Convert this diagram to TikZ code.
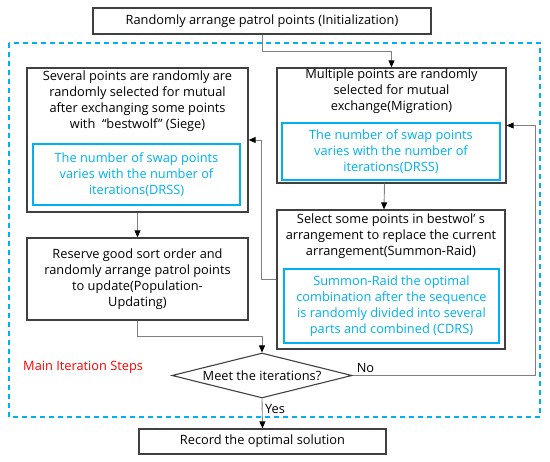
\documentclass[tikz,border=0pt]{standalone}
\usepackage{fontspec}
\setmainfont{Open Sans}
\usetikzlibrary{positioning, arrows.meta, shapes.geometric}

\definecolor{skyblue}{RGB}{0,176,240}
\definecolor{boxgray}{RGB}{64,64,64}
\definecolor{linegray}{RGB}{128,128,128}

\begin{document}
\begin{tikzpicture}[
		x=1pt, y=1pt, font=\fontsize{12.8}{16}\selectfont,
		% Define styles
		base/.style={rectangle, inner sep=0pt, align=center},
		stage/.style={base, draw=boxgray, line width=1.3pt},
		inner/.style={base, draw=skyblue, line width=1.1pt, text=skyblue},
		words/.style={base},
		decision/.style={diamond, draw=boxgray, line width=1.1pt, inner sep=0pt, aspect=4},
		flow/.style={draw=linegray, line width=0.9pt, -{Triangle[color=black, width=6pt, length=7pt]}},
		frame/.style={draw=skyblue, line width=1.2pt, dash pattern=on 5pt off 4pt}
		]
		
		\useasboundingbox (0,0) rectangle (550,-462);
		
		% 1. Initialization
		\node[stage, minimum width=338pt, minimum height=26pt] (init) at (262,-21) {Randomly arrange patrol points (Initialization)};
		
		% 2. Main iteration frame
		\draw[frame] (9,-43) rectangle (540,-417);
		\node[words, text=red, anchor=west] (mainlabel) at (23,-367) {Main Iteration Steps};
		
		% 3. Left column: Siege and Population-Updating
		\node[stage, minimum width=221pt, minimum height=144pt] (siege) at (137.5,-140) {};
		\node[words] (siegetxt) at (137.5,-101) {Several points are randomly are\\randomly selected for mutual\\after exchanging some points\\with\ \ “bestwolf”\ (Siege)};
		\node[inner, minimum width=207pt, minimum height=61pt] (siegedrss) at (136.5,-174.5) {The number of swap points\\varies with the number of\\iterations(DRSS)};
		
		\node[stage, minimum width=221pt, minimum height=82pt] (pop) at (137.5,-279) {Reserve good sort order and\\randomly arrange patrol points\\to update(Population-\\Updating)};
		
		% 4. Right column: Migration and Summon-Raid
		\node[stage, minimum width=229pt, minimum height=115pt] (migr) at (391.5,-125.5) {};
		\node[words] (migrtxt) at (391.5,-91) {Multiple points are randomly\\selected for mutual\\exchange(Migration)};
		\node[inner, minimum width=218pt, minimum height=57pt] (migrdrss) at (391,-151.5) {The number of swap points\\varies with the number of\\iterations(DRSS)};
		
		\node[stage, minimum width=228pt, minimum height=139pt] (summon) at (391,-279.5) {};
		\node[words] (summontxt) at (391,-236.5) {Select some points in bestwol’\ s\\arrangement to replace the current\\arrangement(Summon-Raid)};
		\node[inner, minimum width=215pt, minimum height=74pt] (summoncdrs) at (391.5,-306) {Summon-Raid the optimal\\combination after the sequence\\is randomly divided into several\\parts and combined (CDRS)};
		
		% 5. Decision and result
		\node[decision, minimum width=180pt, minimum height=45pt] (cond) at (262,-375.5) {Meet the iterations?};
		\node[stage, minimum width=247pt, minimum height=25pt] (record) at (262.5,-441.5) {Record the optimal solution};
		
		% Connections
		\draw[flow] (init.south) -- ++(0,-17) -| (migr.north);
		\draw[flow] (siege.south) -- (pop.north);
		\draw[flow] ([xshift=-7pt]migr.south) -- ([xshift=-7pt]summon.north);
		\draw[flow] (summon.west) -- ++(-15,0) |- (siege.east);
		\draw[flow] (pop.south) -- ++(0,-16) -| (cond.north);
		\draw[flow] (cond.east) -- ++(183,0) |- (migr.east);
		\draw[flow] (cond.south) -- (record.north);
		
		% Branch labels
		\node[words, anchor=south west] (nolabel) at ([xshift=4pt, yshift=3pt]cond.east) {No};
		\node[words, anchor=west] (yeslabel) at ([xshift=3pt, yshift=-10pt]cond.south) {Yes};
		
	\end{tikzpicture}
\end{document}
